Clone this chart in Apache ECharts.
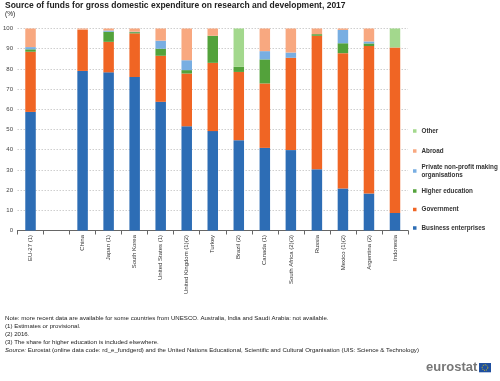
<!DOCTYPE html>
<html><head><meta charset="utf-8">
<script src="https://cdn.jsdelivr.net/npm/echarts@6/dist/echarts.min.js"></script>
<style>html,body{margin:0;padding:0;background:#fff}#c{width:500px;height:381px}</style>
</head><body><div id="c"></div>
<script>
const categories = ["EU-27 (1)", "", "China", "Japan (1)", "South Korea", "United States (1)", "United Kingdom (1)(2)", "Turkey", "Brazil (2)", "Canada (1)", "South Africa (2)(3)", "Russia", "Mexico (1)(2)", "Argentina (2)", "Indonesia"];
const business   = [58.7, null, 79.0, 78.3, 76.0, 63.7, 51.6, 49.2, 44.7, 40.9, 39.8, 30.3, 20.8, 18.3, 8.7];
const government = [29.8, null, 20.4, 15.1, 21.6, 22.8, 26.1, 33.8, 33.8, 31.9, 45.7, 66.1, 67.0, 73.0, 81.9];
const higherEdu  = [1.2, null, 0, 5.0, 0.6, 3.5, 1.7, 13.4, 2.5, 11.9, 0, 0.8, 4.9, 1.3, 0];
const privateNP  = [1.1, null, 0, 0.6, 0.2, 4.0, 4.9, 0, 0, 4.1, 2.6, 0, 6.6, 1.0, 0];
const abroad     = [9.2, null, 0.6, 1.0, 1.6, 6.0, 15.7, 3.6, 0, 11.2, 11.9, 2.8, 0.7, 6.4, 0];
const other      = [0, null, 0, 0, 0, 0, 0, 0, 19.0, 0, 0, 0, 0, 0, 9.4];
const yTicks = [0, 10, 20, 30, 40, 50, 60, 70, 80, 90, 100];

const FONT = '"Liberation Sans", Arial, sans-serif';
const names = ["Business enterprises", "Government", "Higher education", "Private non-profit making organisations", "Abroad", "Other"];
const colors = ["#2D6DB5", "#F06524", "#53A23B", "#78AEE2", "#F8A880", "#A3D88D"];
const values = [business, government, higherEdu, privateNP, abroad, other];

const legendText = {fontFamily: FONT, fontSize: 6.3, fontWeight: 'bold', color: '#333', lineHeight: 8};
const chart = echarts.init(document.getElementById('c'), null, {renderer: 'canvas'});
chart.setOption({
  animation: false,
  color: colors,
  textStyle: {fontFamily: FONT},
  title: [
    {text: 'Source of funds for gross domestic expenditure on research and development, 2017', left: 5, top: 1.5, padding: 0,
     textStyle: {fontFamily: FONT, fontSize: 8.5, fontWeight: 'bold', color: '#222'}},
    {text: '(%)', left: 5, top: 10.5, padding: 0,
     textStyle: {fontFamily: FONT, fontSize: 6.5, fontWeight: 'normal', color: '#222'}},
    {text: 'Note: more recent data are available for some countries from UNESCO. Australia, India and Saudi Arabia: not available.\n(1) Estimates or provisional.\n(2) 2016.\n(3) The share for higher education is included elsewhere.\n{i|Source:} Eurostat (online data code: rd_e_fundgerd) and the United Nations Educational, Scientific and Cultural Organisation (UIS: Science & Technology)',
     left: 5, top: 314.3, padding: 0,
     textStyle: {fontFamily: FONT, fontSize: 6.1, fontWeight: 'normal', color: '#222', lineHeight: 8.1,
       rich: {i: {fontFamily: FONT, fontSize: 6.1, fontStyle: 'italic', color: '#222', lineHeight: 8.1}}}}
  ],
  legend: [
    {orient: 'vertical', left: 413, top: 127, padding: 0, itemGap: 12, itemWidth: 3.5, itemHeight: 3.5, icon: 'rect',
     data: ['Other', 'Abroad'], textStyle: legendText, selectedMode: false},
    {orient: 'vertical', left: 413, top: 159, padding: 0, itemGap: 12, itemWidth: 3.5, itemHeight: 3.5, icon: 'rect',
     data: ['Private non-profit making organisations'], selectedMode: false,
     formatter: function () { return 'Private non-profit making\norganisations'; },
     textStyle: Object.assign({}, legendText, {padding: [8, 0, 0, 0]})},
    {orient: 'vertical', left: 413, top: 187, padding: 0, itemGap: 10.5, itemWidth: 3.5, itemHeight: 3.5, icon: 'rect',
     data: ['Higher education', 'Government', 'Business enterprises'], textStyle: legendText, selectedMode: false}
  ],
  grid: {left: 17, right: 92, top: 28.5, bottom: 150.5, containLabel: false},
  xAxis: {
    type: 'category', data: categories, boundaryGap: true,
    axisLine: {show: true, lineStyle: {color: '#666', width: 1}},
    axisTick: {show: true, interval: 0, length: 4, lineStyle: {color: '#666'}},
    axisLabel: {interval: 0, rotate: 90, fontSize: 6, margin: 4.5, color: '#333', fontFamily: FONT}
  },
  yAxis: {
    type: 'value', min: yTicks[0], max: yTicks[yTicks.length - 1], interval: 10,
    axisLine: {show: false}, axisTick: {show: false},
    axisLabel: {fontSize: 6, color: '#444', margin: 4.5, fontFamily: FONT},
    splitLine: {show: true, lineStyle: {color: '#cfcfcf', type: [1.5, 1.5], width: 1}}
  },
  series: names.map((n, i) => ({
    name: n, type: 'bar', stack: 'total', data: values[i], barWidth: 10.5,
    itemStyle: {color: colors[i]}
  })),
  graphic: [
    {type: 'text', left: 426, top: 361, style: {text: 'eurostat', fill: '#777', font: 'bold 13px ' + FONT}},
    {type: 'rect', shape: {x: 479, y: 363, width: 12, height: 9.3}, style: {fill: '#1E4F9F'}},
    {type: 'circle', shape: {cx: 485, cy: 367.6, r: 2.8}, style: {fill: 'none', stroke: '#F5D000', lineWidth: 1, lineDash: [1, 1.1]}}
  ]
});
</script></body></html>
